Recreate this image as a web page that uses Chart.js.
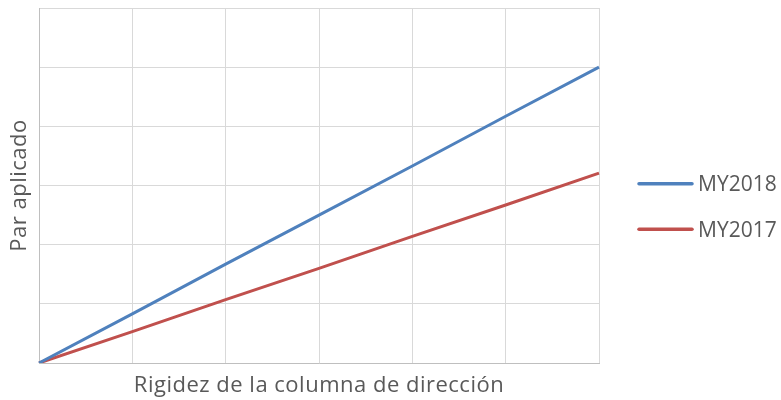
<!DOCTYPE html>
<html>
<head>
<meta charset="utf-8">
<script src="https://cdn.jsdelivr.net/npm/chart.js@4"></script>
<style>
html,body{margin:0;padding:0;background:#fff;}
#wrap{width:781px;height:400px;}
</style>
</head>
<body>
<div id="wrap"><canvas id="c" width="781" height="400"></canvas></div>
<script>
const categories = ['0','1','2','3','4','5','6'];
const seriesNames = ['MY2018','MY2017'];
const my2018 = [0, 0.83, 1.67, 2.5, 3.33, 4.17, 5.0];
const my2017 = [0, 0.53, 1.07, 1.6, 2.14, 2.67, 3.21];
const xTitle = 'Rigidez de la columna de dirección';
const yTitle = 'Par aplicado';

const FONT = '"Open Sans", sans-serif';
const TXT = '#595959';
const FS = 21;
const TFS = 22;

const spacing = {
  id: 'spacing',
  beforeDraw(chart) { chart.ctx.letterSpacing = '0.5px'; }
};

const sideLegend = {
  id: 'sideLegend',
  afterDraw(chart) {
    const ctx = chart.ctx;
    const ca = chart.chartArea;
    const x0 = ca.right + 39;
    const lineLen = 55;
    const mid = (ca.top + ca.bottom) / 2 + 21;
    const gap = 45.5;
    const n = chart.data.datasets.length;
    ctx.save();
    ctx.letterSpacing = '0px';
    chart.data.datasets.forEach((ds, i) => {
      const y = mid + (i - (n - 1) / 2) * gap;
      ctx.strokeStyle = ds.borderColor;
      ctx.lineWidth = 3.5;
      ctx.lineCap = 'round';
      ctx.beginPath();
      ctx.moveTo(x0 + 1, y);
      ctx.lineTo(x0 + lineLen - 1, y);
      ctx.stroke();
      ctx.fillStyle = TXT;
      ctx.font = FS + 'px ' + FONT;
      ctx.textBaseline = 'alphabetic';
      ctx.textAlign = 'left';
      ctx.fillText(ds.label, x0 + lineLen + 5, y + 7.6);
    });
    ctx.restore();
  }
};

new Chart(document.getElementById('c'), {
  type: 'line',
  data: {
    labels: categories,
    datasets: [
      {label: seriesNames[0], data: my2018, borderColor: '#4F81BD', backgroundColor: '#4F81BD', borderWidth: 3, pointRadius: 0, tension: 0},
      {label: seriesNames[1], data: my2017, borderColor: '#C0504D', backgroundColor: '#C0504D', borderWidth: 3, pointRadius: 0, tension: 0}
    ]
  },
  plugins: [spacing, sideLegend],
  options: {
    responsive: false,
    animation: false,
    devicePixelRatio: 1,
    layout: {padding: {top: 8, left: 0, right: 182, bottom: 0}},
    plugins: {
      tooltip: {enabled: false},
      legend: {display: false}
    },
    scales: {
      x: {
        type: 'category',
        offset: false,
        grid: {color: '#d9d9d9', lineWidth: 1, drawTicks: false},
        border: {color: '#bfbfbf', width: 1},
        ticks: {display: false},
        title: {display: true, text: xTitle, color: TXT, font: {family: FONT, size: TFS}, padding: 1},
        afterFit: s => { s.height = 37; }
      },
      y: {
        min: 0, max: 6,
        grid: {color: '#d9d9d9', lineWidth: 1, drawTicks: false},
        border: {color: '#bfbfbf', width: 1},
        ticks: {display: false, stepSize: 1},
        title: {display: true, text: yTitle, color: TXT, font: {family: FONT, size: TFS}, padding: 7},
        afterFit: s => { s.width = 39; }
      }
    }
  }
});
</script>
</body>
</html>
